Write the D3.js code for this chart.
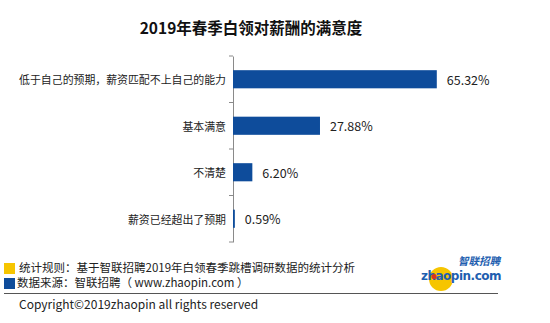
<!DOCTYPE html>
<html><head><meta charset="utf-8">
<script src="https://cdn.jsdelivr.net/npm/d3@7"></script>
<style>body{margin:0;background:#fff}svg{display:block}</style>
</head><body><svg id="c" width="550" height="323"></svg>
<script>
const categories = ["低于自己的预期，薪资匹配不上自己的能力","基本满意","不清楚","薪资已经超出了预期"];
const values = [65.32, 27.88, 6.20, 0.59];
const valueLabels = ["65.32%","27.88%","6.20%","0.59%"];
const titleText = "2019年春季白领对薪酬的满意度";
const notes = ["统计规则：基于智联招聘2019年白领春季跳槽调研数据的统计分析","数据来源：智联招聘（ www.zhaopin.com ）"];
const copyright = "Copyright©2019zhaopin all rights reserved";

const F = "'Noto Sans CJK SC','Noto Sans',sans-serif";
const svg = d3.select("#c");
const blue = "#0e4c9b", yellow = "#f6c500";

svg.append("text").attr("x",251).attr("y",27).attr("text-anchor","middle")
  .attr("dominant-baseline","central").attr("font-family",F).attr("font-weight","bold")
  .attr("font-size",15.5).attr("fill","#111").text(titleText);

const y = d3.scaleBand().domain(categories).range([56,242]).paddingInner(0.61).paddingOuter(0.305);
const x = d3.scaleLinear().domain([0,70]).range([233,233+3.12*70]);

const ax = svg.append("g").attr("transform","translate(233,0)")
  .call(d3.axisLeft(y).tickSize(0).tickFormat(""));
ax.select(".domain").attr("stroke","#8a8a8a");
const bounds = categories.map(c=>y(c)-y.step()*y.paddingInner()/2).concat([242]);
ax.selectAll(".bt").data(bounds).enter().append("line")
  .attr("x1",-4).attr("x2",0).attr("y1",d=>d).attr("y2",d=>d).attr("stroke","#8a8a8a");

svg.selectAll(".bar").data(categories).enter().append("rect")
  .attr("x",x(0)).attr("y",d=>y(d)).attr("height",y.bandwidth())
  .attr("width",(d,i)=>Math.max(1,x(values[i])-x(0))).attr("fill",blue);

svg.selectAll(".vl").data(categories).enter().append("text")
  .attr("x",(d,i)=>x(values[i])+10).attr("y",d=>y(d)+y.bandwidth()/2)
  .attr("dominant-baseline","central").attr("font-family",F).attr("font-size",12.5)
  .attr("fill","#222").text((d,i)=>valueLabels[i]);

svg.selectAll(".cl").data(categories).enter().append("text")
  .attr("x",226).attr("y",d=>y(d)+y.bandwidth()/2).attr("text-anchor","end")
  .attr("dominant-baseline","central").attr("font-family",F).attr("font-size",10.9)
  .attr("fill","#222").text(d=>d);

const sq = [yellow, blue];
notes.forEach((t,i)=>{
  svg.append("rect").attr("x",4).attr("y",263+i*15).attr("width",11).attr("height",11).attr("fill",sq[i]);
  svg.append("text").attr("x",i===0?19:17).attr("y",267+i*15).attr("dominant-baseline","central")
    .attr("font-family",F).attr("font-size",11.5).attr("fill","#222").text(t);
});
svg.append("line").attr("x1",4).attr("x2",498).attr("y1",293.5).attr("y2",293.5).attr("stroke","#555").attr("stroke-width",1);
svg.append("text").attr("x",19).attr("y",303).attr("dominant-baseline","central")
  .attr("font-family",F).attr("font-size",12).attr("fill","#222").text(copyright);

// logo
svg.append("circle").attr("cx",441).attr("cy",279).attr("r",12).attr("fill",yellow);
svg.append("text").attr("x",479).attr("y",260.5).attr("text-anchor","middle").attr("dominant-baseline","central")
  .attr("font-family",F).attr("font-weight","bold").attr("font-style","italic").attr("font-size",10.5)
  .attr("fill","#1f5fb0").text("智联招聘");
svg.append("text").attr("x",461).attr("y",276).attr("text-anchor","middle").attr("dominant-baseline","central")
  .attr("font-family","'DejaVu Sans',sans-serif").attr("font-weight","bold").attr("font-size",12)
  .attr("letter-spacing",-0.5).attr("fill","#1f5fb0").text("zhaopin.com");
svg.append("circle").attr("cx",434).attr("cy",276.5).attr("r",2.6).attr("fill","#d9341f");
</script></body></html>
